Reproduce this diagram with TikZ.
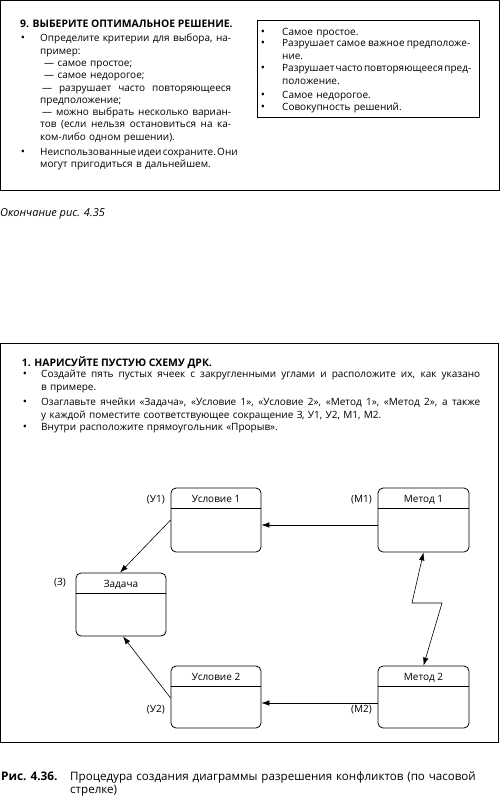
\documentclass[tikz,border=0pt]{standalone}
\usepackage{fontspec}
\setmainfont{Open Sans}
\usetikzlibrary{arrows.meta,calc}
\newcommand\JL[2]{\leavevmode\hbox to #1{\spaceskip=\fontdimen2\font plus 1fil minus 0.5\fontdimen2\font\xspaceskip=\spaceskip #2}}
\tikzset{
  frame/.style={draw, line width=1pt},
  inframe/.style={draw, line width=0.8pt},
  txt/.style={anchor=base west, inner sep=0pt, align=left, text width=#1,
    font=\fontsize{10}{12.3}\selectfont},
  bul/.style={anchor=base, inner sep=0pt, font=\fontsize{11}{12}\selectfont},
  hd/.style={anchor=base west, inner sep=0pt, font=\bfseries\fontsize{10.4}{12}\selectfont},
  cell/.style={draw, rounded corners=5pt, line width=0.8pt, minimum width=90pt,
    minimum height=63pt, inner sep=0pt},
  celltitle/.style={anchor=base, inner sep=0pt, font=\fontsize{10}{12}\selectfont},
  lab/.style={anchor=base east, inner sep=0pt, font=\fontsize{10}{12}\selectfont},
  arr/.style={-{Latex[length=8pt,width=5.5pt]}, line width=0.6pt},
  darr/.style={{Latex[length=8pt,width=5.5pt]}-{Latex[length=8pt,width=5.5pt]}, line width=0.6pt},
}
\begin{document}
\begin{tikzpicture}[x=1pt,y=-1pt]
\useasboundingbox (0,0) rectangle (500,801);
% ---------- top panel ----------
\draw[frame] (0.5,0.5) rectangle (499,190);
\node[hd] (t9) at (20,27.3) {9. ВЫБЕРИТЕ ОПТИМАЛЬНОЕ РЕШЕНИЕ.};
\node[bul] (b1) at (23,41.8) {\textbullet};
\node[txt=191pt] (p1) at (40,41.8) {\JL{191pt}{Определите критерии для выбора, на-}\\
пример:\\
\hspace*{4pt}— самое простое;\\
\hspace*{4pt}— самое недорогое;\\
\JL{191pt}{\hspace*{2pt}— разрушает часто повторяющееся}\\
предположение;\\
\JL{191pt}{\hspace*{2pt}— можно выбрать несколько вариан-}\\
\JL{191pt}{тов (если нельзя остановиться на ка-}\\
ком-либо одном решении).};
\node[bul] (b2) at (23,155.2) {\textbullet};
\node[txt=191pt] (p2) at (40,155.2) {\JL{191pt}{Неиспользованные идеи сохраните. Они}\\
могут пригодиться в дальнейшем.};
% right inner box
\draw[inframe] (257,20) rectangle (479,117);
\node[bul] (r1b) at (263,35.2) {\textbullet};
\node[txt=188pt] (r1) at (282,35.2) {Самое простое.};
\node[bul] (r2b) at (263,46.8) {\textbullet};
\node[txt=188pt] (r2) at (282,46.8) {\JL{188pt}{Разрушает самое важное предположе-}\\ние.};
\node[bul] (r3b) at (263,71.8) {\textbullet};
\node[txt=188pt] (r3) at (282,71.8) {\JL{188pt}{Разрушает часто повторяющееся пред-}\\положение.};
\node[bul] (r4b) at (263,98) {\textbullet};
\node[txt=188pt] (r4) at (282,98) {Самое недорогое.};
\node[bul] (r5b) at (263,110.2) {\textbullet};
\node[txt=188pt] (r5) at (282,110.2) {Совокупность решений.};
\node[anchor=base west, inner sep=0pt, font=\itshape\fontsize{11}{13}\selectfont] (ok) at (0,216) {Окончание рис. 4.35};
% ---------- bottom panel ----------
\draw[frame] (0.5,343) rectangle (498,742.7);
\node[hd] (t1) at (21.7,366.7) {1. НАРИСУЙТЕ ПУСТУЮ СХЕМУ ДРК.};
\node[bul] (q1b) at (25,377.7) {\textbullet};
\node[txt=439pt] (q1) at (41,377.7) {\JL{439pt}{Создайте пять пустых ячеек с закругленными углами и расположите их, как указано}\\
в примере.};
\node[bul] (q2b) at (25,405.7) {\textbullet};
\node[txt=439pt] (q2) at (41,405.7) {\JL{439pt}{Озаглавьте ячейки «Задача», «Условие 1», «Условие 2», «Метод 1», «Метод 2», а также}\\
у каждой поместите соответствующее сокращение З, У1, У2, М1, М2.};
\node[bul] (q3b) at (25,430) {\textbullet};
\node[txt=439pt] (q3) at (41,430) {Внутри расположите прямоугольник «Прорыв».};
% cells
\node[cell, minimum height=64pt] (u1) at (216,520) {};
\node[cell] (z)  at (121,604.5) {};
\node[cell, minimum height=62pt] (u2) at (216,697) {};
\node[cell, minimum height=64pt, minimum width=91pt] (m1) at (423.5,520) {};
\node[cell, minimum height=62pt, minimum width=91pt] (m2) at (423.5,697) {};
\foreach \c/\t in {u1/Условие 1, z/Задача, u2/Условие 2, m1/Метод 1, m2/Метод 2}{
  \draw[line width=0.8pt] ([yshift=-20.5pt]\c.north west) -- ([yshift=-20.5pt]\c.north east);
  \node[celltitle] (\c t) at ([yshift=-14.5pt]\c.north) {\t};
}
% abbreviations
\node[lab] (lu1) at (165,502.8) {(У1)};
\node[lab] (lz)  at (66,585.8) {(З)};
\node[lab] (lu2) at (165,712.5) {(У2)};
\node[lab] (lm1) at (372,502.8) {(М1)};
\node[lab] (lm2) at (372,712.5) {(М2)};
% connectors
\draw[arr] (u1.west) -- ([xshift=-1pt]z.north);
\draw[arr] ([yshift=-1pt]u2.west) -- ([xshift=2pt]z.south);
\draw[arr] ([yshift=-5pt]m1.west) -- ([yshift=-5pt]u1.east);
\draw[arr] ([yshift=-6pt]m2.west) -- ([yshift=-6pt]u2.east);
\coordinate (zz1) at (412,603);
\coordinate (zz2) at (442,603);
\draw[darr] (m1.south) -- (zz1) -- (zz2) -- (m2.north);
% caption
\node[anchor=base west, inner sep=0pt, font=\bfseries\fontsize{11.8}{14}\selectfont] (capn) at (1,780) {Рис. 4.36.};
\node[anchor=base west, inner sep=0pt, align=left, text width=428pt, font=\fontsize{11.6}{13.5}\selectfont] (capt) at (70,780) {Процедура создания диаграммы разрешения конфликтов (по часовой\\стрелке)};
\end{tikzpicture}
\end{document}
